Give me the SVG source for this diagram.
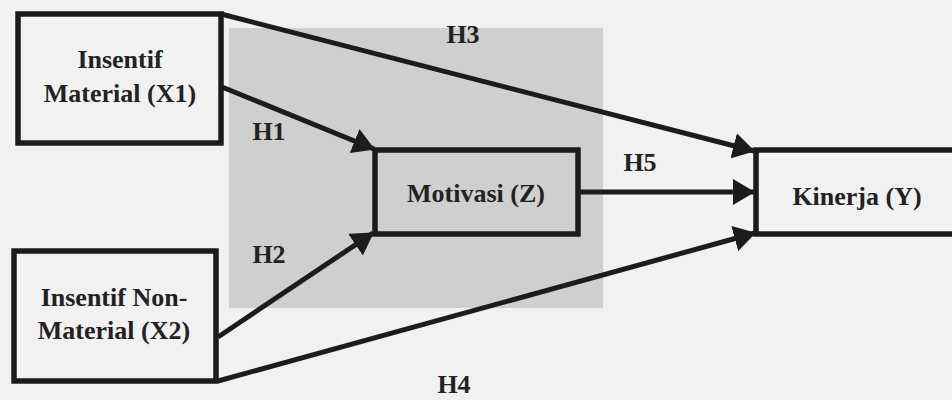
<svg xmlns="http://www.w3.org/2000/svg" width="952" height="400" viewBox="0 0 952 400">
<style>
.box{fill:none;stroke:#1c1c1c;stroke-width:5.5}
.lbl{font-family:"Liberation Serif","Times New Roman",serif;font-weight:bold;font-size:26px;fill:#222;text-anchor:middle}
.edge{stroke:#1c1c1c;stroke-width:5;fill:none;marker-end:url(#ah)}
</style>
<defs>
<marker id="ah" viewBox="0 0 22 26" refX="21" refY="13" markerWidth="22" markerHeight="26" markerUnits="userSpaceOnUse" orient="auto">
<path d="M0,0 L22,13 L0,26 Z" fill="#1c1c1c"/>
</marker>
</defs>
<rect x="0" y="0" width="952" height="400" fill="#f1f1f1"/>
<rect x="229" y="28" width="374" height="280" fill="#cfcfcf"/>
<g id="connectors">
<line class="edge" x1="221" y1="14" x2="754" y2="151"/>
<line class="edge" x1="222" y1="87" x2="374" y2="149"/>
<line class="edge" x1="218" y1="337" x2="373" y2="233"/>
<line class="edge" x1="218" y1="381" x2="755" y2="233"/>
<line class="edge" x1="580" y1="192" x2="754" y2="192"/>
<text class="lbl" x="269" y="140">H1</text>
<text class="lbl" x="269" y="263">H2</text>
<text class="lbl" x="463" y="43">H3</text>
<text class="lbl" x="454" y="393">H4</text>
<text class="lbl" x="640" y="171">H5</text>
</g>
<g id="x1">
<rect class="box" x="18" y="14" width="203" height="129"/>
<text class="lbl" x="120" y="68">Insentif</text>
<text class="lbl" x="120" y="102">Material (X1)</text>
</g>
<g id="x2">
<rect class="box" x="14" y="251" width="202" height="130"/>
<text class="lbl" x="114" y="306">Insentif Non-</text>
<text class="lbl" x="114" y="339">Material (X2)</text>
</g>
<g id="z">
<rect class="box" x="375" y="150" width="203" height="84"/>
<text class="lbl" x="476" y="202">Motivasi (Z)</text>
</g>
<g id="y">
<rect class="box" x="756" y="150" width="210" height="84"/>
<text class="lbl" x="857" y="205">Kinerja (Y)</text>
</g>
</svg>
